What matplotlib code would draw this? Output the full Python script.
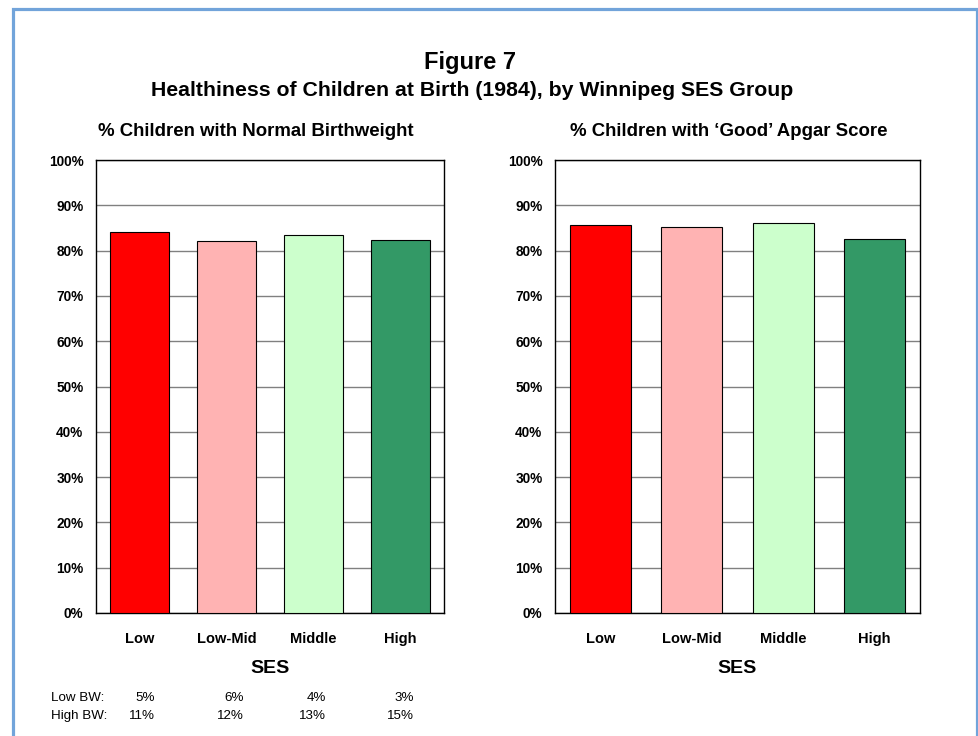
import matplotlib.pyplot as plt
from matplotlib.patches import Rectangle
from matplotlib.ticker import PercentFormatter

plt.rcParams['font.family'] = ['Liberation Sans', 'DejaVu Sans']

ses_groups = ["Low", "Low-Mid", "Middle", "High"]
normal_bw = [84.0, 82.2, 83.4, 82.3]
good_apgar = [85.7, 85.2, 86.2, 82.5]
low_bw = ["5%", "6%", "4%", "3%"]
high_bw = ["11%", "12%", "13%", "15%"]
bar_colors = ["#ff0000", "#ffb3b3", "#ccffcc", "#339966"]

fig = plt.figure(figsize=(9.79, 7.36), dpi=100)

# blue frame around the whole figure, open at the bottom edge
fig.patches.append(Rectangle((13.5 / 979, -0.05), (977 - 13.5) / 979, 1.05 - 9 / 736,
                             transform=fig.transFigure, fill=False,
                             edgecolor="#72a4da", linewidth=2.3))

fig.text(470 / 979, 1 - 63 / 736, "Figure 7", ha="center", va="center",
         fontsize=17, fontweight="bold")
fig.text(472 / 979, 1 - 90 / 736,
         "Healthiness of Children at Birth (1984), by Winnipeg SES Group",
         ha="center", va="center", fontsize=15.3, fontweight="bold")


def draw_panel(rect, values, title, title_x):
    ax = fig.add_axes(rect)
    x = range(len(ses_groups))
    ax.bar(x, values, width=0.67, color=bar_colors, edgecolor="black",
           linewidth=0.8, zorder=3)
    ax.set_ylim(0, 100)
    ax.set_xlim(-0.5, len(ses_groups) - 0.5)
    ax.set_yticks(range(0, 101, 10))
    ax.yaxis.set_major_formatter(PercentFormatter(decimals=0))
    ax.grid(axis="y", color="#808080", linewidth=1.0, zorder=0)
    ax.set_xticks(list(x))
    ax.set_xticklabels(ses_groups)
    ax.tick_params(axis="y", length=0, pad=9, labelsize=9.8)
    ax.tick_params(axis="x", length=0, pad=14, labelsize=10.5)
    for lab in ax.get_xticklabels() + ax.get_yticklabels():
        lab.set_fontweight("bold")
    for sp in ax.spines.values():
        sp.set_color("black")
        sp.set_linewidth(1.0)
    ax.set_xlabel("SES", fontsize=14, fontweight="bold", labelpad=10)
    fig.text(title_x, 1 - 131 / 736, title, ha="center", va="center",
             fontsize=13.4, fontweight="bold")
    return ax


bottom = (736 - 613) / 736
height = 453 / 736
draw_panel([96 / 979, bottom, 348 / 979, height], normal_bw,
           "% Children with Normal Birthweight", 256 / 979)
draw_panel([555 / 979, bottom, 365 / 979, height], good_apgar,
           "% Children with \u2018Good\u2019 Apgar Score", 729 / 979)

# low / high birthweight rates under the left panel
value_right = [155, 244, 326, 414]
for row_label, row, y in [("Low BW:", low_bw, 698), ("High BW:", high_bw, 716)]:
    fig.text(51 / 979, 1 - y / 736, row_label, ha="left", va="center", fontsize=9.6)
    for xr, txt in zip(value_right, row):
        fig.text(xr / 979, 1 - y / 736, txt, ha="right", va="center", fontsize=9.6)

fig.savefig("out.png", dpi=100)
